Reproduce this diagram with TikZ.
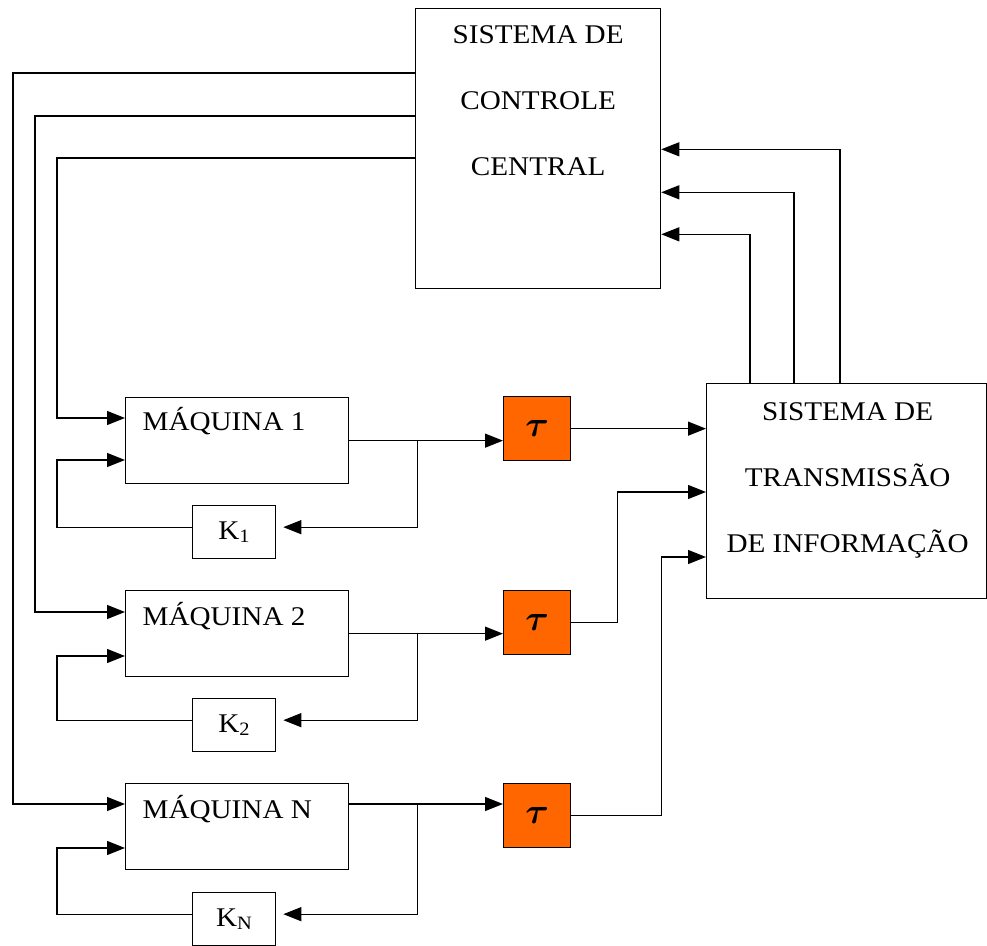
\documentclass[tikz,border=0pt]{standalone}
\usepackage{amsmath}
\usepackage{graphicx}
\usepackage{fontspec}
\setmainfont[FakeStretch=1.08]{Liberation Serif}
\usetikzlibrary{arrows.meta,positioning}
\definecolor{DelayOrange}{HTML}{FF6600}
\newcommand{\delaysym}{\scalebox{1.45}{$\boldsymbol{\tau}$}}

\begin{document}
\begin{tikzpicture}[x=1pt, y=-1pt, line width=1.3pt,
  every node/.style={font=\fontsize{27}{66}\selectfont},
  blk/.style={draw, inner sep=0pt, anchor=north west},
  machine/.style={blk, minimum width=223, minimum height=86},
  gain/.style={blk, minimum width=83, minimum height=53},
  delay/.style={blk, fill=DelayOrange, minimum width=67, minimum height=64},
  lbl/.style={inner sep=0pt, align=center},
  arr/.style={-{Triangle[length=18pt,width=14pt]}}]
  \useasboundingbox (0,0) rectangle (987,945);

  \node[blk, minimum width=245, minimum height=280] (ctrl) at (415,8) {};
  \node[blk, minimum width=280, minimum height=215] (trans) at (706,383) {};
  \node[lbl, anchor=north] at ([yshift=-17pt]ctrl.north) {SISTEMA DE\\CONTROLE\\CENTRAL};
  \node[lbl, anchor=north] at ([xshift=1pt,yshift=-19pt]trans.north) {SISTEMA DE\\TRANSMISSÃO\\DE INFORMAÇÃO};

  \node[machine] (m1) at (125,397) {};
  \node[machine] (m2) at (125,590) {};
  \node[machine] (m3) at (125,783) {};
  \node[lbl, anchor=base west] at ([xshift=17pt,yshift=-33pt]m1.north west) {MÁQUINA 1};
  \node[lbl, anchor=base west] at ([xshift=17pt,yshift=-35pt]m2.north west) {MÁQUINA 2};
  \node[lbl, anchor=base west] at ([xshift=17pt,yshift=-35pt]m3.north west) {MÁQUINA N};

  \node[gain] (k1) at (192,505) {K\textsubscript{1}};
  \node[gain] (k2) at (192,698) {K\textsubscript{2}};
  \node[gain] (k3) at (192,892) {K\textsubscript{N}};

  \node[delay] (t1) at (503,396) {\delaysym};
  \node[delay] (t2) at (503,590) {\delaysym};
  \node[delay] (t3) at (503,783) {\delaysym};

  % central control -> machines
  \draw[arr] ([yshift=-65pt]ctrl.north west) -| ([xshift=-112pt,yshift=-21pt]m3.north west) -- ([yshift=-21pt]m3.north west);
  \draw[arr] ([yshift=-108pt]ctrl.north west) -| ([xshift=-90pt,yshift=-22pt]m2.north west) -- ([yshift=-22pt]m2.north west);
  \draw[arr] ([yshift=-150pt]ctrl.north west) -| ([xshift=-68pt,yshift=-21pt]m1.north west) -- ([yshift=-21pt]m1.north west);

  % machine outputs, gains and feedback
  \draw[arr] (m1.east) coordinate (o1) -- (o1 -| t1.west);
  \draw[arr, shorten >=7pt] (o1) ++(68,0) |- ([yshift=5pt]k1.east);
  \draw[arr] ([yshift=5pt]k1.west) -| ([xshift=-68pt,yshift=-63pt]m1.north west) -- ([yshift=-63pt]m1.north west);

  \draw[arr] (m2.east) coordinate (o2) -- (o2 -| t2.west);
  \draw[arr, shorten >=7pt] (o2) ++(68,0) |- ([yshift=5pt]k2.east);
  \draw[arr] ([yshift=5pt]k2.west) -| ([xshift=-68pt,yshift=-66pt]m2.north west) -- ([yshift=-66pt]m2.north west);

  \draw[arr] ([yshift=-21pt]m3.north east) coordinate (o3) -- (o3 -| t3.west);
  \draw[arr, shorten >=7pt] (o3) ++(68,0) |- ([yshift=5pt]k3.east);
  \draw[arr] ([yshift=5pt]k3.west) -| ([xshift=-68pt,yshift=-65pt]m3.north west) -- ([yshift=-65pt]m3.north west);

  % delays -> transmission
  \draw[arr] (t1.east) -- (t1.east -| trans.west);
  \draw[arr] (t2.east) -- ++(46,0) |- ([yshift=-109pt]trans.north west);
  \draw[arr] (t3.east) -- ++(90,0) |- ([yshift=-174pt]trans.north west);

  % transmission -> central control
  \draw[arr] ([xshift=44pt]trans.north west) |- ([yshift=55pt]ctrl.south east);
  \draw[arr] ([xshift=88pt]trans.north west) |- ([yshift=97pt]ctrl.south east);
  \draw[arr] ([xshift=134pt]trans.north west) |- ([yshift=140pt]ctrl.south east);
\end{tikzpicture}
\end{document}
